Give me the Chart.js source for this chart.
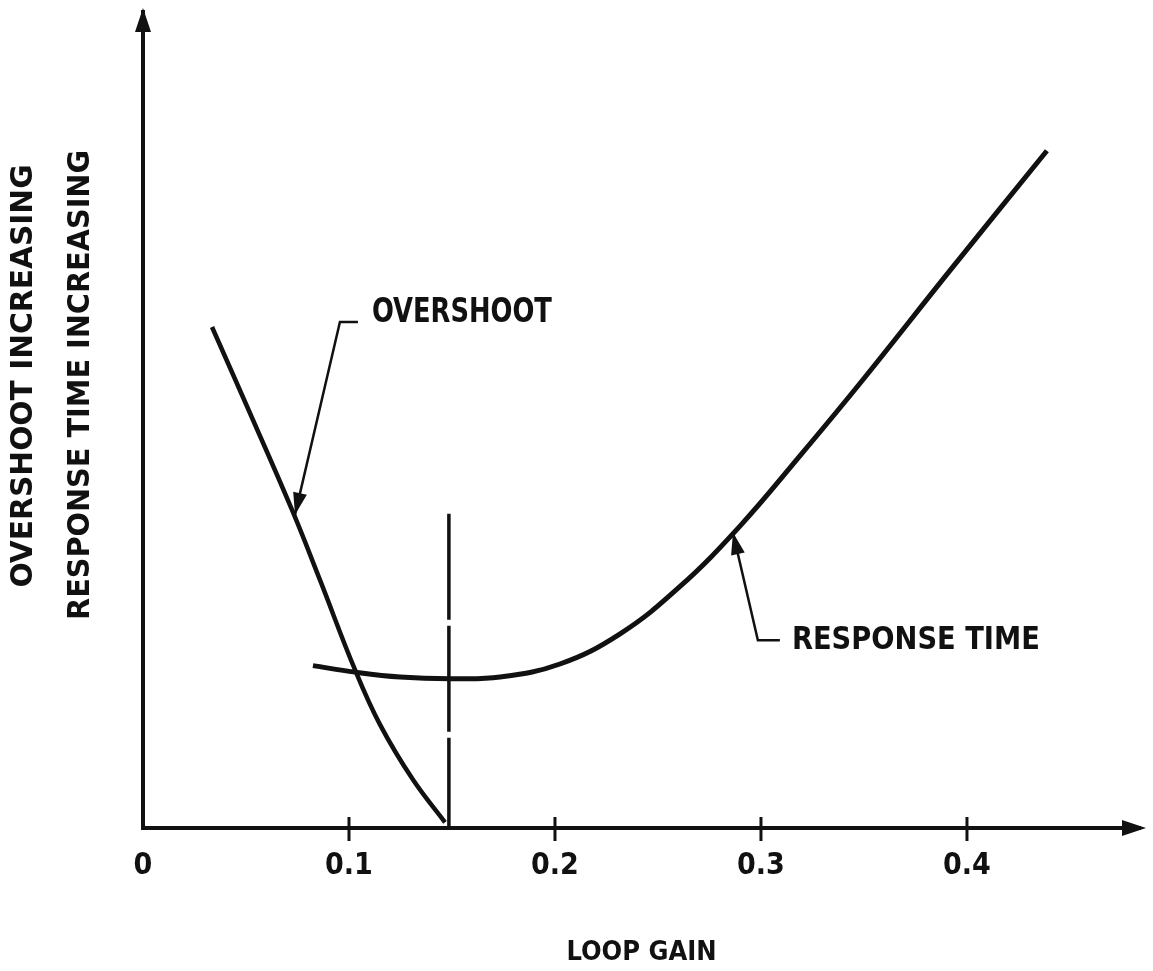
<!DOCTYPE html>
<html>
<head>
<meta charset="utf-8">
<script src="https://cdn.jsdelivr.net/npm/chart.js@4.4.1/dist/chart.umd.min.js"></script>
<style>
  html, body { margin: 0; padding: 0; background: #fff; }
  #wrap { width: 1153px; height: 971px; }
</style>
</head>
<body>
<div id="wrap"><canvas id="gainChart"></canvas></div>
<script>
// overshoot vs loop gain (arbitrary units, increasing upward)
const overshootGain = [0.0335, 0.0534, 0.0728, 0.0859, 0.1029, 0.1150, 0.1311, 0.1466];
const overshootLevel = [6.14, 5.00, 3.87, 3.04, 1.94, 1.27, 0.59, 0.07];

// response time vs loop gain
const responseGain = [0.0825, 0.1029, 0.1248, 0.1490, 0.1733, 0.2024, 0.2316, 0.2607, 0.2898, 0.3189, 0.3481, 0.3917, 0.4388];
const responseLevel = [1.99, 1.91, 1.85, 1.83, 1.85, 2.01, 2.38, 2.96, 3.70, 4.56, 5.45, 6.83, 8.30];

// chosen operating gain
const optimumGain = [0.1485, 0.1485];
const optimumLevel = [3.85, 0];

const gainTicks = [0, 0.1, 0.2, 0.3, 0.4];
const gainTickLabels = ["0", "0.1", "0.2", "0.3", "0.4"];

const INK = "#111";
const FONT = "'DejaVu Sans Condensed', 'DejaVu Sans', sans-serif";

const callouts = [
  { text: "OVERSHOOT", tip: [0.0738, 3.84], elbow: [0.0956, 6.20], shelf: 18, gap: 14, dy: -9, width: 180, size: 33 },
  { text: "RESPONSE TIME", tip: [0.2864, 3.62], elbow: [0.2985, 2.30], shelf: 22, gap: 12, dy: 0, width: 248, size: 32 },
];

function pts(xs, ys) {
  return xs.map((x, i) => ({ x: x, y: ys[i] }));
}

function fitText(ctx, text, x, y, width, size, rot) {
  ctx.save();
  ctx.translate(x, y);
  ctx.rotate(rot || 0);
  ctx.font = "bold " + size + "px " + FONT;
  const w = ctx.measureText(text).width;
  ctx.scale(width / w, 1);
  ctx.textAlign = "center";
  ctx.textBaseline = "middle";
  ctx.fillStyle = INK;
  ctx.fillText(text, 0, 0);
  ctx.restore();
}

function arrowHead(ctx, tx, ty, fx, fy, len, half) {
  const a = Math.atan2(ty - fy, tx - fx);
  ctx.beginPath();
  ctx.moveTo(tx, ty);
  ctx.lineTo(tx - len * Math.cos(a) + half * Math.sin(a), ty - len * Math.sin(a) - half * Math.cos(a));
  ctx.lineTo(tx - len * Math.cos(a) - half * Math.sin(a), ty - len * Math.sin(a) + half * Math.cos(a));
  ctx.closePath();
  ctx.fill();
}

const decorations = {
  id: "decorations",
  afterDraw(chart) {
    const { ctx, chartArea: area, scales: { x, y } } = chart;
    const axisY = y.getPixelForValue(0);
    const axisX = x.getPixelForValue(0);
    ctx.save();
    ctx.fillStyle = INK;
    ctx.strokeStyle = INK;

    // axis arrows
    arrowHead(ctx, axisX, area.top - 4, axisX, area.top + 40, 24, 8);
    arrowHead(ctx, area.right + 6, axisY, area.right - 40, axisY, 24, 8);

    // tick crosses
    ctx.lineWidth = 3;
    gainTicks.forEach(v => {
      if (v === 0) return;
      const px = x.getPixelForValue(v);
      ctx.beginPath();
      ctx.moveTo(px, axisY - 11);
      ctx.lineTo(px, axisY + 13);
      ctx.stroke();
    });

    // leader lines with labels
    callouts.forEach(c => {
      const tx = x.getPixelForValue(c.tip[0]), ty = y.getPixelForValue(c.tip[1]);
      const ex = x.getPixelForValue(c.elbow[0]), ey = y.getPixelForValue(c.elbow[1]);
      ctx.lineWidth = 2.5;
      ctx.beginPath();
      ctx.moveTo(ex + c.shelf, ey);
      ctx.lineTo(ex, ey);
      ctx.lineTo(tx, ty);
      ctx.stroke();
      arrowHead(ctx, tx, ty, ex, ey, 22, 7);
      fitText(ctx, c.text, ex + c.shelf + c.gap + c.width / 2, ey + c.dy, c.width, c.size, 0);
    });

    // vertical axis titles
    fitText(ctx, "OVERSHOOT INCREASING", 24, 376, 423, 30, -Math.PI / 2);
    fitText(ctx, "RESPONSE TIME INCREASING", 81, 385, 470, 30, -Math.PI / 2);
    ctx.restore();
  }
};

new Chart(document.getElementById("gainChart"), {
  type: "scatter",
  data: {
    datasets: [
      {
        label: "Overshoot",
        data: pts(overshootGain, overshootLevel),
        showLine: true,
        borderColor: INK,
        borderWidth: 4.5,
        pointRadius: 0,
        tension: 0.4,
      },
      {
        label: "Response time",
        data: pts(responseGain, responseLevel),
        showLine: true,
        borderColor: INK,
        borderWidth: 5,
        pointRadius: 0,
        tension: 0.4,
      },
      {
        label: "Operating gain",
        data: pts(optimumGain, optimumLevel),
        showLine: true,
        borderColor: INK,
        borderWidth: 3.5,
        borderDash: [106, 6],
        pointRadius: 0,
      },
    ],
  },
  options: {
    responsive: true,
    maintainAspectRatio: false,
    animation: false,
    layout: { padding: { top: 12, right: 13, left: 0, bottom: 0 } },
    plugins: {
      legend: { display: false },
      tooltip: { enabled: false },
    },
    scales: {
      x: {
        type: "linear",
        min: 0,
        max: 0.484,
        afterFit(scale) { scale.height = 143; },
        grid: { display: false, drawTicks: false },
        border: { display: true, color: INK, width: 4 },
        afterBuildTicks(scale) { scale.ticks = gainTicks.map(v => ({ value: v })); },
        ticks: {
          color: INK,
          padding: 20,
          maxRotation: 0,
          font: { family: FONT, size: 30, weight: "bold" },
          callback: (v) => {
            const i = gainTicks.findIndex(t => Math.abs(t - v) < 1e-6);
            return i < 0 ? "" : gainTickLabels[i];
          },
        },
        title: {
          display: true,
          text: "LOOP GAIN",
          color: INK,
          font: { family: FONT, size: 27, weight: "bold" },
          padding: { top: 0, bottom: 2 },
        },
      },
      y: {
        type: "linear",
        min: 0,
        max: 10,
        afterFit(scale) { scale.width = 143; },
        grid: { display: false, drawTicks: false },
        border: { display: true, color: INK, width: 4 },
        ticks: { display: false },
      },
    },
  },
  plugins: [decorations],
});
</script>
</body>
</html>
